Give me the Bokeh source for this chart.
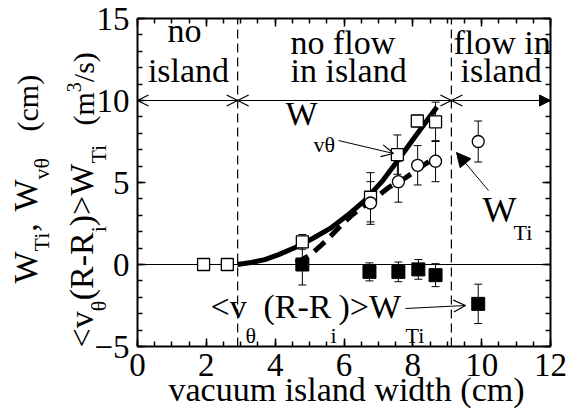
import numpy as np
from bokeh.plotting import figure
from bokeh.models import (Label, Arrow, OpenHead, NormalHead, TeeHead, Whisker,
                          ColumnDataSource, LinearAxis, FixedTicker, Range1d)
from bokeh.embed import file_html
from bokeh.resources import INLINE

# ---------------- data ----------------
wv_x = [1.92, 2.61, 4.79, 6.77, 7.55, 8.13, 8.66]          # W_vtheta, open squares
wv_y = [0.0, 0.0, 1.38, 4.1, 6.7, 8.75, 8.7]
wv_err = [0.0, 0.0, 0.45, 1.5, 1.2, 0.35, 1.2]

wti_x = [6.77, 7.58, 8.14, 8.66, 9.9]                       # W_Ti, open circles
wti_y = [3.75, 5.05, 6.05, 6.3, 7.5]
wti_err = [1.3, 1.25, 1.2, 1.25, 1.25]

flux_x = [4.79, 6.74, 7.58, 8.16, 8.66, 9.9]                # <v(R-Ri)>W_Ti, filled squares
flux_y = [0.0, -0.45, -0.45, -0.3, -0.65, -2.4]
flux_err = [1.25, 0.55, 0.6, 0.6, 0.7, 1.2]

fit_v_x = [2.9, 3.3, 3.7, 4.1, 4.6, 5.1, 5.6, 6.1, 6.6, 7.1, 7.6, 8.1, 8.7]   # solid curve
fit_v_y = [0.0, 0.12, 0.3, 0.6, 1.05, 1.6, 2.2, 3.0, 3.9, 5.05, 6.45, 7.9, 9.6]

fit_t_x = [4.6, 5.0, 5.3, 5.6, 5.9, 6.2, 6.5, 6.9, 7.3, 7.8, 8.2, 8.7]        # dashed curve
fit_t_y = [0.1, 0.55, 1.1, 1.7, 2.35, 2.95, 3.45, 4.05, 4.7, 5.3, 5.9, 6.6]

region_bounds = [0.0, 2.91, 9.12, 12.0]
region_arrow_y = 10.0
x_ticks = [0, 2, 4, 6, 8, 10, 12]
y_ticks = [-5, 0, 5, 10, 15]
x_minor = list(np.arange(0, 12.01, 0.5))
y_minor = list(np.arange(-5, 15.01, 1.0))

# ---------------- layout ----------------
FONT = "Liberation Serif"
W, H = 574, 410
# the box (x 0..12, y -5..15) sits at pixels x 137..550, y 18..346 of the canvas
BX0, BX1, BY0, BY1 = 137.0, 550.0, 18.0, 346.0
sx = (BX1 - BX0) / (x_ticks[-1] - x_ticks[0])
sy = (BY1 - BY0) / (y_ticks[-1] - y_ticks[0])
xr = Range1d(x_ticks[0] - BX0 / sx, x_ticks[-1] + (W - BX1) / sx)
yr = Range1d(y_ticks[0] - (H - BY1) / sy, y_ticks[-1] + BY0 / sy)

p = figure(width=W, height=H, x_range=xr, y_range=yr,
           output_backend="svg", toolbar_location=None, title=None,
           min_border_left=0, min_border_right=0, min_border_top=0, min_border_bottom=0)
p.xgrid.visible = False
p.ygrid.visible = False
p.outline_line_color = None
p.background_fill_color = "white"
p.border_fill_color = "white"


def X(px):
    return x_ticks[0] + (px - BX0) / sx


def Y(py):
    return y_ticks[-1] - (py - BY0) / sy


def style_axis(ax, labels=True, standoff=8):
    ax.axis_line_width = 2
    ax.axis_line_color = "black"
    ax.major_tick_in = 8
    ax.major_tick_out = 0
    ax.minor_tick_in = 5
    ax.minor_tick_out = 0
    ax.major_tick_line_width = 1.5
    ax.minor_tick_line_width = 1.5
    ax.major_tick_line_color = "black"
    ax.minor_tick_line_color = "black"
    ax.major_label_text_font = FONT
    ax.major_label_text_font_size = "33px"
    ax.major_label_text_color = "black"
    ax.major_label_standoff = standoff
    if not labels:
        ax.major_label_text_font_size = "0px"
        ax.major_label_standoff = 0


bx = p.xaxis[0]
bx.ticker = FixedTicker(ticks=x_ticks, minor_ticks=x_minor)
bx.fixed_location = y_ticks[0]
bx.bounds = (x_ticks[0], x_ticks[-1])
style_axis(bx, standoff=7)
ly = p.yaxis[0]
ly.ticker = FixedTicker(ticks=y_ticks, minor_ticks=y_minor)
ly.fixed_location = x_ticks[0]
ly.bounds = (y_ticks[0], y_ticks[-1])
style_axis(ly, standoff=8)

top_ax = LinearAxis(ticker=FixedTicker(ticks=x_ticks, minor_ticks=x_minor),
                    fixed_location=y_ticks[-1], bounds=(x_ticks[0], x_ticks[-1]))
style_axis(top_ax, labels=False)
top_ax.major_label_overrides = {t: "" for t in x_ticks}
p.add_layout(top_ax, "above")
right_ax = LinearAxis(ticker=FixedTicker(ticks=y_ticks, minor_ticks=y_minor),
                      fixed_location=x_ticks[-1], bounds=(y_ticks[0], y_ticks[-1]))
style_axis(right_ax, labels=False)
right_ax.major_label_overrides = {t: "" for t in y_ticks}
p.add_layout(right_ax, "right")

# ---------------- guide lines ----------------
p.segment(x0=[region_bounds[0]], y0=[0], x1=[region_bounds[-1]], y1=[0],
          line_color="black", line_width=1)
p.segment(x0=region_bounds[1:-1], y0=[y_ticks[0]] * 2, x1=region_bounds[1:-1], y1=[y_ticks[-1]] * 2,
          line_color="black", line_width=1.2, line_dash="9 5")

for i in range(len(region_bounds) - 1):
    last = i == len(region_bounds) - 2
    end_head = (NormalHead(size=11, fill_color="black", line_color="black", line_width=1)
                if last else OpenHead(size=11, line_color="black", line_width=1.3))
    p.add_layout(Arrow(x_start=region_bounds[i], y_start=region_arrow_y,
                       x_end=region_bounds[i + 1], y_end=region_arrow_y,
                       start=OpenHead(size=11, line_color="black", line_width=1.3),
                       end=end_head, line_color="black", line_width=1.1))

# ---------------- curves ----------------
p.line(fit_v_x, fit_v_y, line_color="black", line_width=5)
p.line(fit_t_x, fit_t_y, line_color="black", line_width=5, line_dash="14 8")


# ---------------- error bars ----------------
def whisk(xs, ys, es):
    keep = [(x, y, e) for x, y, e in zip(xs, ys, es) if e > 0]
    src = ColumnDataSource(dict(x=[k[0] for k in keep],
                                lo=[k[1] - k[2] for k in keep],
                                hi=[k[1] + k[2] for k in keep]))
    w = Whisker(base="x", lower="lo", upper="hi", source=src, dimension="height",
                line_color="black", line_width=1,
                upper_head=TeeHead(size=8, line_color="black", line_width=1),
                lower_head=TeeHead(size=8, line_color="black", line_width=1))
    p.add_layout(w)


whisk(wv_x, wv_y, wv_err)
whisk(wti_x, wti_y, wti_err)
whisk(flux_x, flux_y, flux_err)

# ---------------- markers ----------------
p.scatter(wv_x, wv_y, marker="square", size=12, fill_color="white", line_color="black", line_width=1.3)
p.scatter(wti_x, wti_y, marker="circle", size=12, fill_color="white", line_color="black", line_width=1.3)
p.scatter(flux_x, flux_y, marker="square", size=13, fill_color="black", line_color="black", line_width=1)

# ---------------- texts ----------------
SHIFT = 0.35   # measured offset of Bokeh's alphabetic baseline, in em


def lab(text, px, py, size, align="left", angle=0.0):
    if angle == 0.0:
        py = py - SHIFT * size
    else:
        px = px - SHIFT * size
    p.add_layout(Label(x=X(px), y=Y(py), text=text, text_font=FONT, text_font_size=f"{size}px",
                       text_color="black", text_align=align, text_baseline="alphabetic",
                       angle=angle))


# region labels
lab("no", 184, 42, 34, "center")
lab("island", 188, 82, 34, "center")
lab("no flow", 290, 54, 34)
lab("in island", 290, 82, 34)
lab("flow in", 453, 54, 34)
lab("island", 460, 82, 34)

# series annotations
lab("W", 285, 125, 34)
lab("vθ", 313, 152, 22)
p.add_layout(Arrow(x_start=X(338), y_start=Y(140), x_end=X(393), y_end=Y(153),
                   end=OpenHead(size=12, line_color="black", line_width=1.2),
                   line_color="black", line_width=1))
lab("W", 482, 222, 36)
lab("Ti", 513, 240, 22)
p.add_layout(Arrow(x_start=X(488), y_start=Y(190), x_end=X(456), y_end=Y(152),
                   end=NormalHead(size=14, fill_color="black", line_color="black", line_width=1),
                   line_color="black", line_width=1))
lab("<v", 210, 318, 34)
lab("θ", 245, 343, 22)
lab("(R-R", 263, 318, 34)
lab("i", 330, 343, 22)
lab(")>W", 338, 318, 34)
lab("Ti", 405, 343, 22)
p.add_layout(Arrow(x_start=X(405), y_start=Y(308), x_end=X(465), y_end=Y(305),
                   end=OpenHead(size=12, line_color="black", line_width=1.2),
                   line_color="black", line_width=1))

# x axis title
lab("vacuum island width (cm)", 346, 401, 34, "center")

# rotated y axis title, built from pieces
CW = {'W': .944, 'T': .611, 'i': .278, ',': .25, ' ': .25, 'v': .5, 'θ': .5, '(': .333,
      ')': .333, 'c': .444, 'm': .778, '<': .564, '>': .564, 'R': .667, '-': .333,
      '3': .5, '/': .278, 's': .389}


def tw(s, size):
    return sum(CW.get(ch, .5) for ch in s) * size


def vrun(start_py, pieces):
    py = start_py
    for text, size, bxp in pieces:
        lab(text, bxp, py, size, "left", np.pi / 2)
        py -= tw(text, size)


vrun(283, [("W", 34, 37), ("Ti", 22, 49), (",", 34, 37)])
vrun(211, [("W", 34, 37), ("vθ", 22, 49)])
vrun(131, [("(cm)", 30, 37)])
vrun(347, [("<v", 34, 93), ("θ", 22, 106), ("(R-R", 34, 93), ("i", 22, 106),
           (")>W", 34, 93), ("Ti", 22, 106)])
vrun(125, [("(m", 30, 93), ("3", 20, 80), ("/s)", 30, 93)])

open("out.html", "w").write(file_html(p, INLINE))
